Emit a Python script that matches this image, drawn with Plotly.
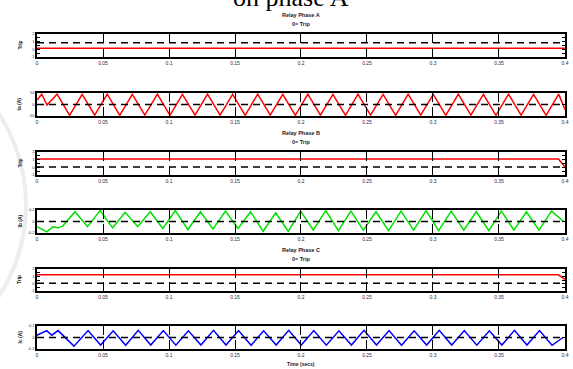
import plotly.graph_objects as go

# ---------------- data ----------------
x_ticks = [0, 0.05, 0.1, 0.15, 0.2, 0.25, 0.3, 0.35, 0.4]
x_tick_labels = ["0", "0.05", "0.1", "0.15", "0.2", "0.25", "0.3", "0.35", "0.4"]

phase_names = ["Relay Phase A", "Relay Phase B", "Relay Phase C"]
current_labels = ["Ia (A)", "Ib (A)", "Ic (A)"]

# trip signals (red) and reference levels (black dashed)
trip_t = [0, 0.395, 0.4]
trip_a = [0.15, 0.15, 0.15]
trip_b = [1.1, 1.1, 0.05]
trip_c = [1.2, 1.2, 0.6]
ref_t = [0, 0.4]
ref_a = [0.85, 0.85]
ref_b = [0.05, 0.05]
ref_c = [0.05, 0.05]

# phase A current
ia_t = [0, 0.0036, 0.0076,
        0.0152, 0.0247, 0.0342, 0.0437, 0.0532, 0.0627, 0.0722, 0.0817, 0.0912, 0.1007,
        0.1102, 0.1197, 0.1292, 0.1387, 0.1482, 0.1577, 0.1672, 0.1767, 0.1862, 0.1957,
        0.2052, 0.2147, 0.2242, 0.2337, 0.2432, 0.2527, 0.2622, 0.2717, 0.2812, 0.2907,
        0.3002, 0.3097, 0.3192, 0.3287, 0.3382, 0.3477, 0.3572, 0.3667, 0.3762, 0.3857,
        0.3952, 0.4]
ia_v = [20, 45, -2,
        45, -47, 44, -46, 45, -47, 44, -46, 45, -47,
        44, -46, 45, -46, 44, -47, 45, -46, 44, -47,
        45, -46, 44, -47, 45, -46, 44, -47, 45, -46,
        44, -47, 45, -46, 44, -47, 45, -46, 44, -47,
        45, -22]

# phase B current
ib_t = [0, 0.0074, 0.0122, 0.0159, 0.0195,
        0.0288, 0.0383, 0.0478, 0.0573, 0.0668, 0.0763, 0.0858, 0.0953, 0.1048, 0.1143,
        0.1238, 0.1333, 0.1428, 0.1523, 0.1618, 0.1713, 0.1808, 0.1903, 0.1998, 0.2093,
        0.2188, 0.2283, 0.2378, 0.2473, 0.2568, 0.2663, 0.2758, 0.2853, 0.2948, 0.3043,
        0.3138, 0.3233, 0.3328, 0.3423, 0.3518, 0.3613, 0.3708, 0.3803, 0.3898, 0.399]
ib_v = [-0.09, -0.18, -0.09, -0.11, -0.08,
        0.17, -0.09, 0.19, -0.11, 0.16, -0.09, 0.17, -0.12, 0.19, -0.14,
        0.17, -0.13, 0.18, -0.12, 0.17, -0.17, 0.15, -0.17, 0.18, -0.15,
        0.19, -0.16, 0.18, -0.15, 0.17, -0.16, 0.18, -0.15, 0.19, -0.16,
        0.18, -0.15, 0.17, -0.16, 0.18, -0.15, 0.17, -0.15, 0.18, 0.0]

# phase C current
ic_t = [0, 0.0074, 0.0112, 0.016, 0.028,
        0.0387, 0.0482, 0.0577, 0.0672, 0.0767, 0.0862, 0.0957, 0.1052, 0.1147, 0.1242,
        0.1337, 0.1432, 0.1527, 0.1622, 0.1717, 0.1812, 0.1907, 0.2002, 0.2097, 0.2192,
        0.2287, 0.2382, 0.2477, 0.2572, 0.2667, 0.2762, 0.2857, 0.2952, 0.3047, 0.3142,
        0.3237, 0.3332, 0.3427, 0.3522, 0.3617, 0.3712, 0.3807, 0.3902, 0.3985]
ic_v = [0.02, 0.06, 0.02, 0.06, -0.075,
        0.06, -0.066, 0.058, -0.068, 0.062, -0.065, 0.06, -0.067, 0.058, -0.066,
        0.062, -0.065, 0.06, -0.068, 0.058, -0.066, 0.062, -0.065, 0.06, -0.067,
        0.058, -0.066, 0.062, -0.065, 0.06, -0.068, 0.058, -0.066, 0.062, -0.065,
        0.06, -0.067, 0.058, -0.066, 0.062, -0.065, 0.06, -0.068, 0.0]

trip_range = [-1, 2]
trip_tickvals = [-1, -0.5, 0, 0.5, 1, 1.5, 2]
trip_ticktext = ["-1", "", "0", "", "1", "", "2"]
ia_range = [-50, 50]
ia_ticks = [-50, 0, 50]
ib_range = [-0.2, 0.2]
ib_ticks = [-0.2, 0, 0.2]
ic_range = [-0.1, 0.1]
ic_ticks = [-0.1, 0, 0.1]

# ---------------- layout helpers ----------------
W, H = 573, 369
X0, X1 = 37, 565
boxes = [(34, 57), (93, 116), (152, 175), (210, 233), (269, 291), (326, 349)]


def py(p):
    return 1 - p / H


def px(p):
    return p / W


FONT = "Liberation Sans, Arial, sans-serif"
fig = go.Figure()

signals = [
    (trip_t, trip_a, ref_a, "red", trip_range, trip_tickvals, trip_ticktext),
    (ia_t, ia_v, None, "red", ia_range, ia_ticks, [str(v) for v in ia_ticks]),
    (trip_t, trip_b, ref_b, "red", trip_range, trip_tickvals, trip_ticktext),
    (ib_t, ib_v, None, "#00e000", ib_range, ib_ticks, [str(v) for v in ib_ticks]),
    (trip_t, trip_c, ref_c, "red", trip_range, trip_tickvals, trip_ticktext),
    (ic_t, ic_v, None, "#0000ff", ic_range, ic_ticks, [str(v) for v in ic_ticks]),
]

layout_axes = {}
for i, (tt, vv, ref, col, rng, tv, tx) in enumerate(signals):
    n = i + 1
    xa = "x" if n == 1 else f"x{n}"
    ya = "y" if n == 1 else f"y{n}"
    fig.add_trace(go.Scatter(x=tt, y=vv, mode="lines", xaxis=xa, yaxis=ya,
                             line=dict(color=col, width=1.5), showlegend=False,
                             hoverinfo="skip"))
    ref_vals = ref if ref is not None else [0, 0]
    fig.add_trace(go.Scatter(x=ref_t, y=ref_vals, mode="lines", xaxis=xa, yaxis=ya,
                             line=dict(color="black", width=1.5, dash="7px,5px"),
                             showlegend=False, hoverinfo="skip"))
    top, bot = boxes[i]
    layout_axes["xaxis" if n == 1 else f"xaxis{n}"] = dict(
        domain=[px(X0), px(X1)], range=[0, 0.40001], anchor=ya,
        tickvals=x_ticks, ticktext=x_tick_labels, ticks="inside", ticklen=9,
        tickwidth=1.2, tickcolor="black", mirror="ticks", showline=True,
        linecolor="black", linewidth=1.5, showgrid=False, zeroline=False,
        tickfont=dict(size=5, color="#2a2a40", family=FONT), fixedrange=True)
    layout_axes["yaxis" if n == 1 else f"yaxis{n}"] = dict(
        domain=[py(bot), py(top)], range=rng, anchor=xa,
        tickvals=tv, ticktext=tx, ticks="inside", ticklen=3, tickwidth=1,
        tickcolor="black", mirror="ticks", showline=True, linecolor="black",
        linewidth=1.5, showgrid=False, zeroline=False,
        tickfont=dict(size=4, color="#2a2a40", family=FONT), fixedrange=True)

fig.update_layout(**layout_axes)

annotations = []
for k, name in enumerate(phase_names):
    top = boxes[2 * k][0]
    annotations.append(dict(text=f"<b>{name}</b>", x=px(301), y=py(top - 19),
                            xanchor="center", yanchor="middle",
                            xref="paper", yref="paper", showarrow=False,
                            font=dict(size=5.5, family=FONT, color="#1a1a2a")))
    annotations.append(dict(text="<b>0= Trip</b>", x=px(301), y=py(top - 10),
                            xanchor="center", yanchor="middle",
                            xref="paper", yref="paper", showarrow=False,
                            font=dict(size=5.5, family=FONT, color="#1a1a2a")))
for i in range(6):
    top, bot = boxes[i]
    label = "Trip" if i % 2 == 0 else current_labels[i // 2]
    annotations.append(dict(text=f"<b>{label}</b>", x=px(19), y=py((top + bot) / 2),
                            xanchor="center", yanchor="middle",
                            xref="paper", yref="paper", showarrow=False, textangle=-90,
                            font=dict(size=5, family=FONT, color="#1a1a2a")))
annotations.append(dict(text="<b>Time (secs)</b>", x=px(301), y=py(364),
                        xanchor="center", yanchor="middle",
                        xref="paper", yref="paper", showarrow=False,
                        font=dict(size=5, family=FONT, color="#1a1a2a")))
annotations.append(dict(text="on phase A", x=px(291), y=py(-2.5), xanchor="center",
                        yanchor="middle",
                        xref="paper", yref="paper", showarrow=False,
                        font=dict(size=26, family="Liberation Serif, Times New Roman, serif",
                                  color="black")))

fig.update_layout(
    width=W, height=H,
    margin=dict(l=0, r=0, t=0, b=0, pad=0, autoexpand=False),
    paper_bgcolor="white", plot_bgcolor="white",
    annotations=annotations,
    shapes=[dict(type="circle", xref="paper", yref="paper", layer="below",
                 x0=px(-300), x1=px(26), y0=py(370), y1=py(40),
                 line=dict(color="#ededed", width=4))],
)

fig.write_html("out.html", config={"displayModeBar": False},
               post_script="document.body.style.margin='0';document.body.style.overflow='hidden';")
